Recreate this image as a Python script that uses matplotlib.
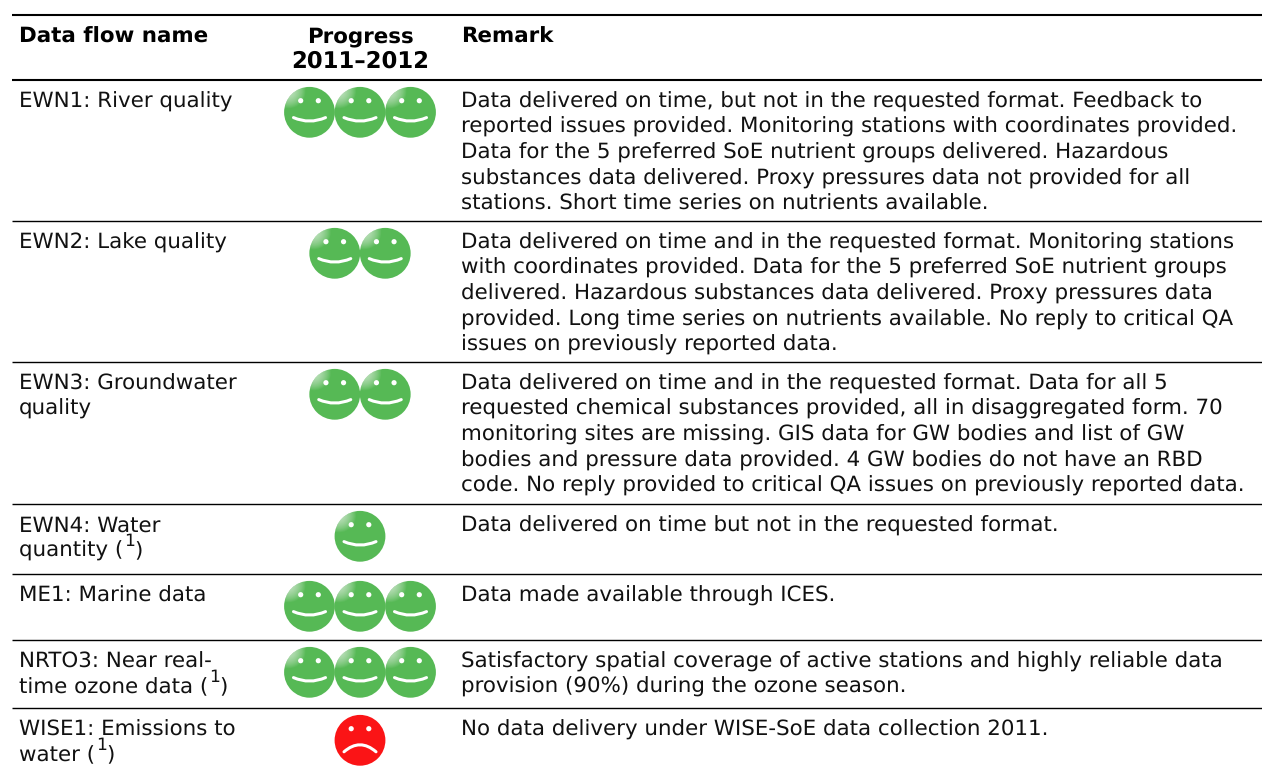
import matplotlib
matplotlib.use("Agg")
import matplotlib.pyplot as plt
from matplotlib.patches import Circle, PathPatch
from matplotlib.path import Path

plt.rcParams["text.hinting"] = "none"
plt.rcParams["text.hinting_factor"] = 8

names = [["EWN1: River quality"], ["EWN2: Lake quality"], ["EWN3: Groundwater", "quality"],
         ["EWN4: Water", "quantity ("], ["ME1: Marine data"], ["NRTO3: Near real-", "time ozone data ("],
         ["WISE1: Emissions to", "water ("]]
footnoted = [False, False, False, True, False, True, True]
smileys = [3, 2, 2, 1, 3, 3, 1]
positive = [True, True, True, True, True, True, False]
remarks = [
    ["Data delivered on time, but not in the requested format. Feedback to",
     "reported issues provided. Monitoring stations with coordinates provided.",
     "Data for the 5 preferred SoE nutrient groups delivered. Hazardous",
     "substances data delivered. Proxy pressures data not provided for all",
     "stations. Short time series on nutrients available."],
    ["Data delivered on time and in the requested format. Monitoring stations",
     "with coordinates provided. Data for the 5 preferred SoE nutrient groups",
     "delivered. Hazardous substances data delivered. Proxy pressures data",
     "provided. Long time series on nutrients available. No reply to critical QA",
     "issues on previously reported data."],
    ["Data delivered on time and in the requested format. Data for all 5",
     "requested chemical substances provided, all in disaggregated form. 70",
     "monitoring sites are missing. GIS data for GW bodies and list of GW",
     "bodies and pressure data provided. 4 GW bodies do not have an RBD",
     "code. No reply provided to critical QA issues on previously reported data."],
    ["Data delivered on time but not in the requested format."],
    ["Data made available through ICES."],
    ["Satisfactory spatial coverage of active stations and highly reliable data",
     "provision (90%) during the ozone season."],
    ["No data delivery under WISE-SoE data collection 2011."],
]
row_tops = [80, 221, 362, 504, 574, 640, 708]
header_cols = ["Data flow name", "Progress\n2011\u20132012", "Remark"]

FS = 15.42
PITCH = 25.6
GREEN, RED = "#56b955", "#fb1416"
INK = "#111111"

fig = plt.figure(figsize=(12.62, 7.69), dpi=100)
ax = fig.add_axes([0, 0, 1, 1])
ax.set_xlim(0, 1262)
ax.set_ylim(769, 0)
ax.axis("off")

def face(cx, cy, color, happy):
    r = 25.4
    base = Circle((cx, cy), r, fc=color, ec="none", zorder=3)
    ax.add_patch(base)
    if happy:
        for k in range(20):
            h = Circle((cx - 21, cy - 21), 17 - k * 0.8, fc="white", ec="none",
                       alpha=0.05, zorder=3.2)
            ax.add_patch(h)
            h.set_clip_path(base)
    for dx in (-8.8, 8.8):
        ax.add_patch(Circle((cx + dx, cy - 11.6), 2.6, fc="white", ec="none", zorder=4))
    if happy:
        verts = [(cx - 16, cy + 5.3), (cx, cy + 12.3), (cx + 16, cy + 5.3)]
    else:
        verts = [(cx - 16, cy + 11.5), (cx, cy - 2.5), (cx + 16, cy + 11.5)]
    codes = [Path.MOVETO, Path.CURVE3, Path.CURVE3]
    ax.add_patch(PathPatch(Path(verts, codes), fc="none", ec="white", lw=2.2,
                           capstyle="round", zorder=4))

# rules
ax.plot([12, 1262], [15, 15], color="black", lw=1.5, solid_capstyle="butt")
for i, top in enumerate(row_tops):
    ax.plot([12, 1262], [top, top], color="black", lw=1.5 if i == 0 else 1.0, solid_capstyle="butt")

# header
HEAD = dict(fontweight="bold", color="black", va="baseline")
ax.text(19, 42.4, header_cols[0], fontsize=FS, **HEAD)
ax.text(360, 42.4, header_cols[1].split("\n")[0], ha="center", fontsize=FS, **HEAD)
ax.text(360, 68.0, header_cols[1].split("\n")[1], ha="center", fontsize=FS * 1.06, **HEAD)
ax.text(461, 42.4, header_cols[2], fontsize=FS, **HEAD)

# rows
for top, nm, fn, n, pos, rem in zip(row_tops, names, footnoted, smileys, positive, remarks):
    y0 = top + 27.4
    last = None
    for j, line in enumerate(nm):
        last = ax.text(19, y0 + j * PITCH, line, fontsize=FS, color=INK, va="baseline")
    if fn:
        yb = y0 + (len(nm) - 1) * PITCH
        x_end = last.get_window_extent(fig.canvas.get_renderer()).x1
        ax.text(x_end + 1, yb - 10.5, "1", fontsize=FS * 0.8, color=INK, va="baseline")
        ax.text(x_end + 11, yb, ")", fontsize=FS, color=INK, va="baseline")
    for j, line in enumerate(rem):
        ax.text(461, y0 + j * PITCH, line, fontsize=FS, color=INK, va="baseline")
    for k in range(n):
        cx = 360 + (k - (n - 1) / 2) * 50.5
        face(cx, top + 32.3, GREEN if pos else RED, pos)

fig.savefig("out.png", dpi=100, facecolor="white")
